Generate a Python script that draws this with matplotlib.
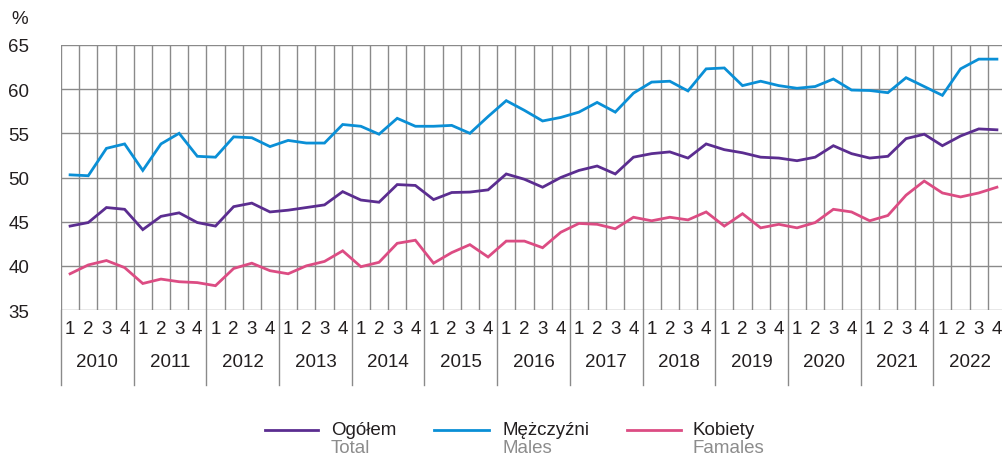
import matplotlib
matplotlib.use("Agg")
import matplotlib.pyplot as plt
import matplotlib.transforms as mtransforms
from matplotlib.lines import Line2D

plt.rcParams['font.family'] = ['Liberation Sans', 'DejaVu Sans']

# Data: quarterly rates 2010 Q1 .. 2022 Q4 (%)
years = [str(y) for y in range(2010, 2023)]
quarters = ['1', '2', '3', '4']

total = [44.5, 44.9, 46.6, 46.4, 44.1, 45.6, 46.0, 44.9, 44.5, 46.7, 47.1, 46.1,
         46.3, 46.6, 46.9, 48.4, 47.45, 47.2, 49.2, 49.1, 47.5, 48.3, 48.35, 48.6,
         50.4, 49.8, 48.9, 50.0, 50.8, 51.3, 50.4, 52.3, 52.7, 52.9, 52.2, 53.8,
         53.15, 52.8, 52.3, 52.2, 51.9, 52.3, 53.6, 52.7, 52.2, 52.4, 54.4, 54.9,
         53.6, 54.7, 55.5, 55.4]
males = [50.3, 50.2, 53.3, 53.8, 50.8, 53.8, 55.0, 52.4, 52.3, 54.6, 54.5, 53.5,
         54.2, 53.9, 53.9, 56.0, 55.8, 54.9, 56.7, 55.8, 55.8, 55.9, 55.0, 56.9,
         58.7, 57.6, 56.4, 56.8, 57.4, 58.5, 57.4, 59.55, 60.8, 60.9, 59.8, 62.3,
         62.4, 60.4, 60.9, 60.4, 60.1, 60.3, 61.15, 59.9, 59.85, 59.6, 61.3, 60.3,
         59.3, 62.3, 63.4, 63.4]
females = [39.1, 40.1, 40.6, 39.8, 38.0, 38.5, 38.2, 38.1, 37.75, 39.7, 40.3, 39.45,
           39.1, 40.0, 40.5, 41.7, 39.9, 40.4, 42.55, 42.9, 40.3, 41.5, 42.4, 41.0,
           42.8, 42.8, 42.05, 43.8, 44.8, 44.7, 44.2, 45.5, 45.1, 45.5, 45.2, 46.1,
           44.5, 45.9, 44.3, 44.7, 44.3, 44.9, 46.4, 46.1, 45.1, 45.7, 48.0, 49.6,
           48.25, 47.8, 48.25, 48.9]

series_labels = [('Ogółem', 'Total'), ('Mężczyźni', 'Males'), ('Kobiety', 'Famales')]
colors = ['#5b2d90', '#0a8fd6', '#dc4c83']
grid_color = '#8a8a8a'
text_color = '#231f20'
fs = 13.5

W, H = 1002, 456
fig = plt.figure(figsize=(W / 100, H / 100), dpi=100)
ax = fig.add_axes([61 / W, (H - 311) / H, 945 / W, 265 / H])

n = len(total)
x = list(range(n))

# grid
for yv in range(35, 66, 5):
    ax.axhline(yv, color=grid_color, lw=1.0, zorder=1)
for i in range(n + 1):
    ax.axvline(i - 0.5, color=grid_color, lw=1.0, zorder=1)

for vals, c in zip([total, males, females], colors):
    ax.plot(x, vals, color=c, lw=2.0, zorder=3, solid_joinstyle='miter')

ax.set_xlim(-0.5, n - 0.5)
ax.set_ylim(35, 65)
for s in ax.spines.values():
    s.set_visible(False)

ax.set_xticks([])
ax.set_yticks(range(35, 66, 5))
ax.tick_params(axis='y', length=0, pad=23, labelsize=fs, labelcolor=text_color)

# quarter and year labels below the plot
trans = mtransforms.blended_transform_factory(ax.transData, ax.transAxes)
for i in range(n):
    ax.text(i, -0.068, quarters[i % 4], transform=trans, ha='center', va='center',
            fontsize=fs, color=text_color)
for k, yr in enumerate(years):
    ax.text(4 * k + 1.5, -0.196, yr, transform=trans, ha='center', va='center',
            fontsize=fs, color=text_color)
    ax.plot([4 * k - 0.5, 4 * k - 0.5], [0, -75 / 265], transform=trans,
            color=grid_color, lw=1.0, clip_on=False)
ax.plot([n - 0.5, n - 0.5], [0, -75 / 265], transform=trans,
        color=grid_color, lw=1.0, clip_on=False)

fig.text(20 / W, 1 - 19 / H, '%', ha='center', va='center', fontsize=fs, color=text_color)

# legend
leg_lines = [(265, 318), (434, 489), (627, 681)]
leg_text_x = [331, 502, 692]
for (x0, x1), tx, c, (pl, en) in zip(leg_lines, leg_text_x, colors, series_labels):
    fig.add_artist(Line2D([x0 / W, x1 / W], [1 - 431 / H, 1 - 431 / H],
                          transform=fig.transFigure, color=c, lw=2.0))
    fig.text(tx / W, 1 - 431 / H, pl, ha='left', va='center', fontsize=fs, color=text_color)
    fig.text(tx / W, 1 - 449 / H, en, ha='left', va='center', fontsize=fs, color='#8c8c8c')

fig.savefig('out.png', dpi=100)
